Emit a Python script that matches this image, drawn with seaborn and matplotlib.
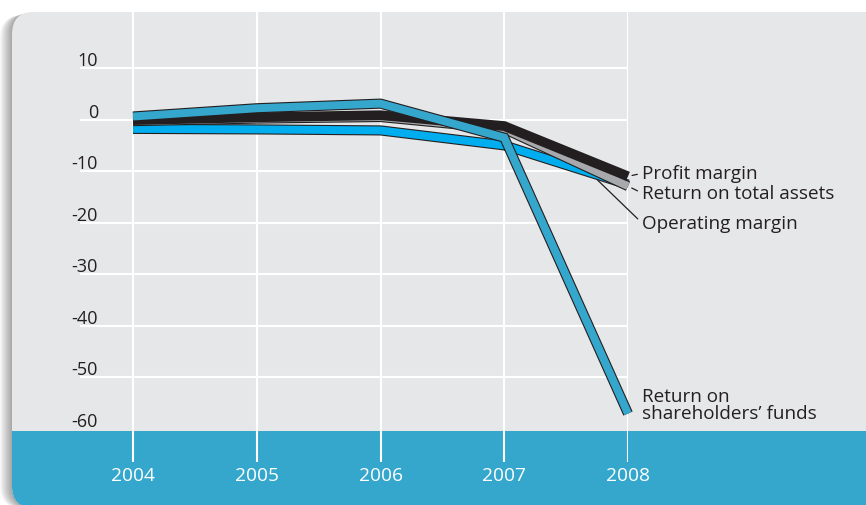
import numpy as np
import pandas as pd
import matplotlib
matplotlib.use("Agg")
import matplotlib.pyplot as plt
import seaborn as sns
from matplotlib.patches import FancyBboxPatch, Rectangle
from matplotlib import patheffects as pe
from matplotlib.transforms import IdentityTransform, offset_copy

# ---------------- data ----------------
years = [2004, 2005, 2006, 2007, 2008]
profit_margin = [-0.1, 0.45, 0.85, -1.25, -11.0]
return_total_assets = [-0.3, 0.2, 0.5, -1.8, -12.9]
operating_margin = [-1.8, -1.9, -2.1, -5.0, -12.6]
return_shareholders = [0.6, 2.2, 3.1, -3.5, -57.0]
y_ticks = [10, 0, -10, -20, -30, -40, -50, -60]
x_labels = ["2004", "2005", "2006", "2007", "2008"]
series_labels = ["Profit margin", "Return on total assets",
                 "Operating margin", "Return on\nshareholders\u2019 funds"]

# ---------------- style ----------------
sns.set_style("white")
plt.rcParams['font.family'] = ['Open Sans', 'DejaVu Sans']
TXT = '#231f20'
PANEL = '#e6e7e9'
BAND = '#35a7cd'
TEAL = '#35a7cd'
BRIGHT = '#00aeef'
GREY = '#a7a9ac'
BLACK = '#231f20'
FS = 13
FS_LAB = 13.6
FS_X = 13.8

W, H = 866, 506
fig = plt.figure(figsize=(W / 100, H / 100), dpi=100)
fig.patch.set_facecolor('white')
ident = IdentityTransform()

# shadow on the left of the panel
for k in range(1, 13):
    sh = FancyBboxPatch((12 - k, -3), 1000, 496 - 0.3 * k,
                        boxstyle="round,pad=0,rounding_size=22",
                        transform=ident, facecolor='black', edgecolor='none',
                        alpha=0.032, zorder=-10)
    fig.patches.append(sh)

panel = FancyBboxPatch((12, -3), 1000, 496,
                       boxstyle="round,pad=0,rounding_size=22",
                       transform=ident, facecolor=PANEL, edgecolor='none', zorder=-9)
fig.patches.append(panel)
band = Rectangle((0, -20), 1000, (H - 432) + 20, transform=ident,
                 facecolor=BAND, edgecolor='none', zorder=-8)
band.set_clip_path(panel)
fig.patches.append(band)

# ---------------- axes ----------------
ax_l, ax_r, ax_t, ax_b = 80, 628, 13, 463
ax = fig.add_axes([ax_l / W, (H - ax_b) / H, (ax_r - ax_l) / W, (ax_b - ax_t) / H])
ax.set_facecolor('none')
ax.patch.set_visible(False)
for s in ax.spines.values():
    s.set_visible(False)

px_per_year = (628 - 133) / 4
px_per_unit = 5.157
zero_px = 120.6
ax.set_xlim(years[0] - (133 - ax_l) / px_per_year, years[-1])
ax.set_ylim(-(ax_b - zero_px) / px_per_unit, (zero_px - ax_t) / px_per_unit)

ax.set_xticks(years)
ax.set_xticklabels(x_labels)
ax.tick_params(axis='x', length=0, pad=3, labelcolor='white', labelsize=FS_X)
ax.set_yticks([])
ax.grid(axis='x', color='white', lw=1.5, zorder=0)
ax.set_axisbelow(True)

# horizontal gridlines (the bottom one coincides with the band edge)
ax.hlines(y_ticks[:-1], 0, 1, transform=ax.get_yaxis_transform(),
          color='white', lw=1.5, zorder=0.5)

# y labels sitting above their gridlines
ytrans = offset_copy(ax.get_yaxis_transform(), fig=fig, x=0, y=3.0, units='dots')
for v in y_ticks:
    ax.text((98 - ax_l) / (ax_r - ax_l), v, str(v), transform=ytrans,
            ha='right', va='baseline', fontsize=FS, color=TXT)

# ---------------- lines ----------------
def outlined(w):
    return [pe.Stroke(linewidth=w + 1.6, foreground=BLACK), pe.Normal()]

df = pd.DataFrame({'year': years, 'pm': profit_margin, 'rota': return_total_assets,
                   'om': operating_margin, 'rosf': return_shareholders})
common = dict(clip_on=False, solid_joinstyle='miter', solid_capstyle='butt')
lw = 5.7
sns.lineplot(data=df, x='year', y='om', ax=ax, color=BRIGHT, lw=lw,
             path_effects=outlined(lw), zorder=3, **common)
sns.lineplot(data=df, x='year', y='rota', ax=ax, color=GREY, lw=lw,
             path_effects=outlined(lw), zorder=4, **common)
sns.lineplot(data=df, x='year', y='pm', ax=ax, color=BLACK, lw=7.0,
             zorder=5, **common)
sns.lineplot(data=df, x='year', y='rosf', ax=ax, color=TEAL, lw=lw,
             path_effects=outlined(lw), zorder=6, **common)
ax.set_xlabel('')
ax.set_ylabel('')

# ---------------- labels ----------------
arrow = dict(arrowstyle='-', color=TXT, lw=0.9, shrinkA=1,
             relpos=(0, 0.5))
ax.annotate(series_labels[0], xy=(years[-1], profit_margin[-1]),
            xytext=(14, 3), textcoords='offset pixels', ha='left', va='center',
            fontsize=FS_LAB, color=TXT, annotation_clip=False,
            arrowprops=dict(arrow, shrinkB=3))
ax.annotate(series_labels[1], xy=(years[-1], return_total_assets[-1]),
            xytext=(14, -7), textcoords='offset pixels', ha='left', va='center',
            fontsize=FS_LAB, color=TXT, annotation_clip=False,
            arrowprops=dict(arrow, shrinkB=3))
x_om = years[-1] - 0.31
y_om = np.interp(x_om, years, operating_margin)
ax.annotate(series_labels[2], xy=(x_om, y_om),
            xytext=(642 - 628 + 0.31 * px_per_year, -(224 - 120.6 + y_om * px_per_unit)),
            textcoords='offset pixels', ha='left', va='center',
            fontsize=FS_LAB, color=TXT, annotation_clip=False,
            arrowprops=dict(arrow, shrinkB=8))
ax.annotate(series_labels[3], xy=(years[-1], return_shareholders[-1]),
            xytext=(14, 9), textcoords='offset pixels', ha='left', va='center',
            fontsize=FS_LAB, color=TXT, linespacing=0.95, annotation_clip=False)

fig.savefig('out.png', dpi=100, facecolor='white')
